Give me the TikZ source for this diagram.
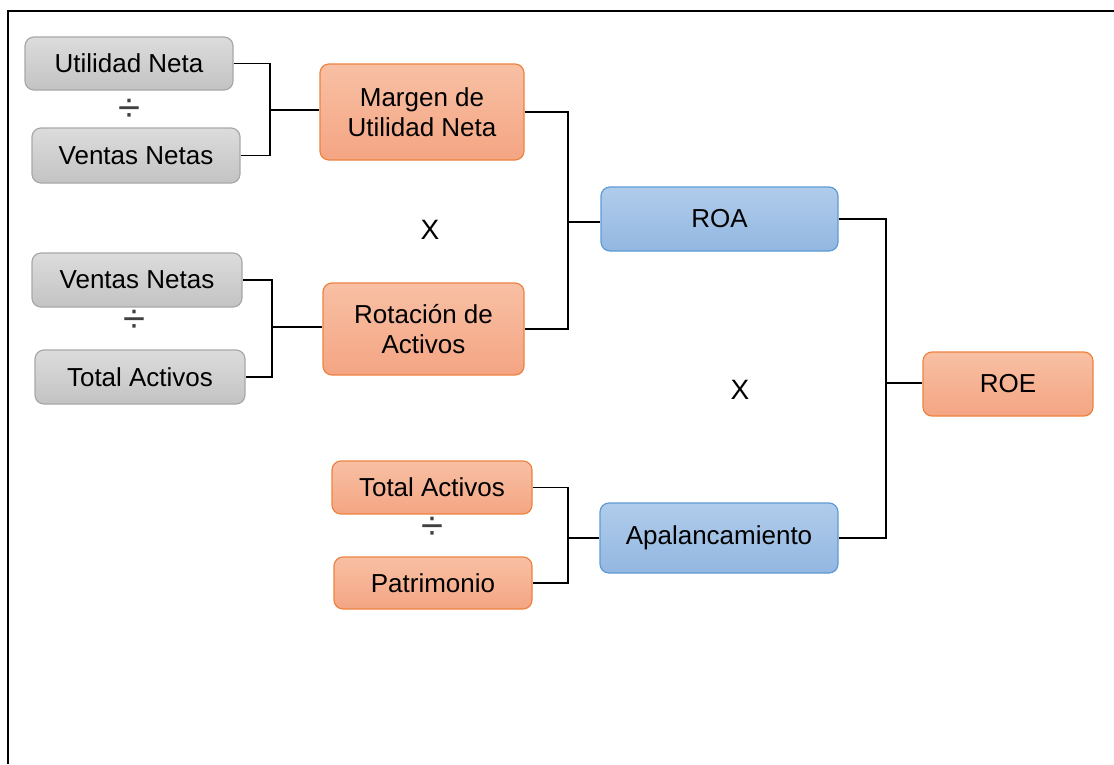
\documentclass[tikz,border=0pt]{standalone}
\usepackage{fontspec}
\setmainfont{Liberation Sans}
\definecolor{greyTop}{HTML}{DCDCDC}
\definecolor{greyBot}{HTML}{C3C3C3}
\definecolor{greyLine}{HTML}{A8A8A8}
\definecolor{orTop}{HTML}{F8C0A4}
\definecolor{orBot}{HTML}{F4A583}
\definecolor{orLine}{HTML}{EE8240}
\definecolor{blTop}{HTML}{B0CCEB}
\definecolor{blBot}{HTML}{93B7E1}
\definecolor{blLine}{HTML}{5E9BD6}
\tikzset{
  box/.style={rounded corners=9pt, line width=1.2pt, align=center, inner sep=0pt,
    font=\fontsize{26}{30}\selectfont},
  greybox/.style={box, draw=greyLine, top color=greyTop, bottom color=greyBot},
  orbox/.style={box, draw=orLine, top color=orTop, bottom color=orBot},
  blbox/.style={box, draw=blLine, top color=blTop, bottom color=blBot},
  conn/.style={line width=1.4pt, black},
  divsign/.style={font=\fontsize{40}{40}\selectfont, inner sep=0pt, text=black!75},
  xsign/.style={font=\fontsize{28}{28}\selectfont, inner sep=0pt}
}
\begin{document}
\begin{tikzpicture}[x=1pt,y=-1pt]
\useasboundingbox (0,0) rectangle (1114,764);
\draw[line width=2.6pt] (8,764) -- (8,11) -- (1114,11);

% left column
\node[greybox, minimum width=208pt, minimum height=53pt] (ut) at (129,63.5) {Utilidad Neta};
\node[divsign] (d1) at (129,110) {÷};
\node[greybox, minimum width=208pt, minimum height=55pt] (vn1) at (136,155.5) {Ventas Netas};

\node[greybox, minimum width=210pt, minimum height=54pt] (vn2) at (137,280) {Ventas Netas};
\node[divsign] (d2) at (134,321) {÷};
\node[greybox, minimum width=210pt, minimum height=54pt] (ta1) at (140,377) {Total Activos};

\node[orbox, minimum width=200pt, minimum height=53pt] (ta2) at (432,487.5) {Total Activos};
\node[divsign] (d3) at (432,528) {÷};
\node[orbox, minimum width=198pt, minimum height=52pt] (pa) at (433,583) {Patrimonio};

% middle column
\node[orbox, minimum width=204pt, minimum height=96pt] (mg) at (422,112) {Margen de\\Utilidad Neta};
\node[orbox, minimum width=201pt, minimum height=92pt] (ro) at (423.5,329) {Rotación de\\Activos};
\node[xsign] (x1) at (430,230) {X};

% right columns
\node[blbox, minimum width=237pt, minimum height=64pt] (roa) at (719.5,219) {ROA};
\node[blbox, minimum width=238pt, minimum height=70pt] (ap) at (719,538) {Apalancamiento};
\node[xsign] (x2) at (740,390) {X};
\node[orbox, minimum width=170pt, minimum height=64pt] (roe) at (1008,384) {ROE};

% connectors
\coordinate (b1) at (270,110);
\draw[conn] (ut.east) -- (ut.east -| b1) -- (vn1.east -| b1) -- (vn1.east);
\draw[conn] (b1) -- (mg.west |- b1);

\coordinate (b2) at (272,327);
\draw[conn] (vn2.east) -- (vn2.east -| b2) -- (ta1.east -| b2) -- (ta1.east);
\draw[conn] (b2) -- (ro.west |- b2);

\coordinate (b3) at (568,222);
\draw[conn] (mg.east) -- (mg.east -| b3) -- (ro.east -| b3) -- (ro.east);
\draw[conn] (b3) -- (roa.west |- b3);

\coordinate (b4) at (568,538);
\draw[conn] (ta2.east) -- (ta2.east -| b4) -- (pa.east -| b4) -- (pa.east);
\draw[conn] (b4) -- (ap.west);

\coordinate (b5) at (886,383);
\draw[conn] (roa.east) -- (roa.east -| b5) -- (ap.east -| b5) -- (ap.east);
\draw[conn] (b5) -- (roe.west |- b5);
\end{tikzpicture}
\end{document}
